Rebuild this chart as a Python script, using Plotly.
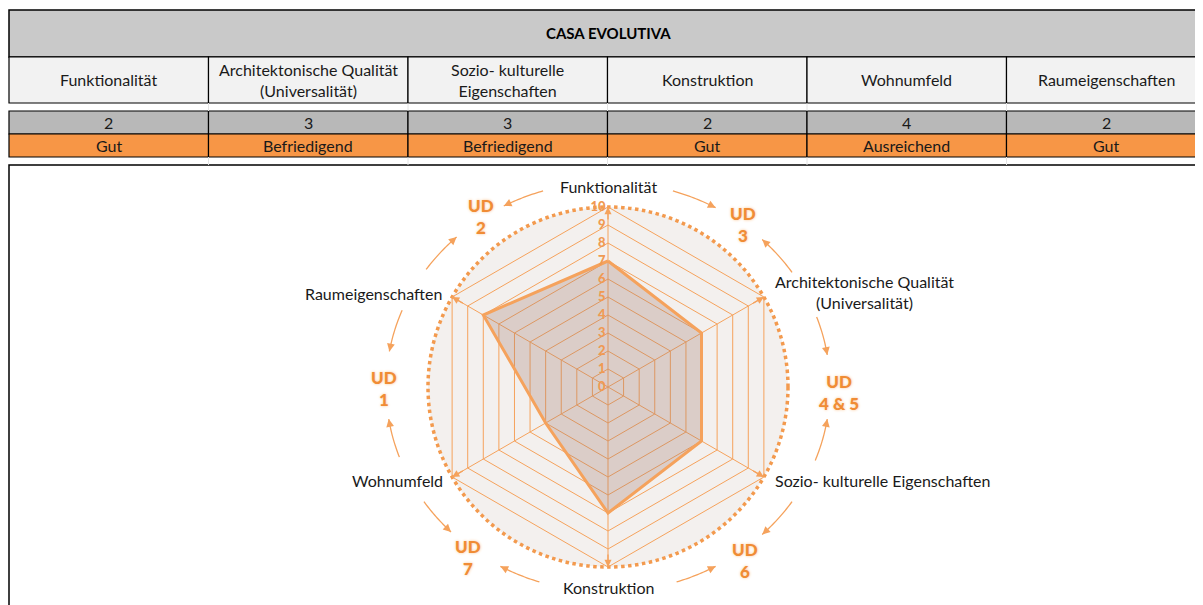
import numpy as np
import plotly.graph_objects as go

# data
title = 'CASA EVOLUTIVA'
categories = ['Funktionalität', 'Architektonische Qualität (Universalität)',
              'Sozio- kulturelle Eigenschaften', 'Konstruktion',
              'Wohnumfeld', 'Raumeigenschaften']
table_headers = ['Funktionalität', 'Architektonische Qualität<br>(Universalität)',
                 'Sozio- kulturelle<br>Eigenschaften', 'Konstruktion',
                 'Wohnumfeld', 'Raumeigenschaften']
chart_labels = ['Funktionalität', 'Architektonische Qualität<br>(Universalität)',
                'Sozio- kulturelle Eigenschaften', 'Konstruktion',
                'Wohnumfeld', 'Raumeigenschaften']
grades = [2, 3, 3, 2, 4, 2]
grade_labels = ['Gut', 'Befriedigend', 'Befriedigend', 'Gut', 'Ausreichend', 'Gut']
scores = [7, 6, 6, 7, 4, 8]
ud_labels = ['UD<br>2', 'UD<br>3', 'UD<br>4 & 5', 'UD<br>6', 'UD<br>7', 'UD<br>1']

OFF = 8  # page body margin
W, H = 1203 - OFF, 605 - OFF
ORANGE = '#f5a25c'
FONT = 'Lato'


def px(x):
    return (x - OFF) / W


def py(y):
    return 1 - (y - OFF) / H


def text(x, y, t, **font):
    return dict(x=px(x), y=py(y), text=t, showarrow=False,
                xanchor='center', yanchor='middle', font=font)


cx, cy, R = 608, 387, 180

fig = go.Figure()
fig.add_trace(go.Scatterpolar(
    r=scores + scores[:1],
    theta=categories + categories[:1],
    fill='toself',
    fillcolor='rgba(165,125,112,0.3)',
    line=dict(color=ORANGE, width=3),
    mode='lines',
    hoverinfo='skip',
    showlegend=False,
))

shapes = []
annotations = []

# top table
col_w = 199.5
x0 = 9
shapes.append(dict(type='rect', x0=px(x0), x1=px(1225), y0=py(10), y1=py(57),
                   fillcolor='#c9c9c9', line=dict(color='black', width=1.5)))
annotations.append(text(608, 33, '<b>' + title + '</b>', family=FONT, size=15, color='black'))
for i, h in enumerate(table_headers):
    xa, xb = x0 + i * col_w, x0 + (i + 1) * col_w
    if i == len(table_headers) - 1:
        xb = 1225
    xm = x0 + (i + 0.5) * col_w
    shapes.append(dict(type='rect', x0=px(xa), x1=px(xb), y0=py(57), y1=py(103),
                       fillcolor='#f2f2f2', line=dict(color='black', width=1.2)))
    shapes.append(dict(type='rect', x0=px(xa), x1=px(xb), y0=py(111), y1=py(134),
                       fillcolor='#b8b8b8', line=dict(color='black', width=1.2)))
    shapes.append(dict(type='rect', x0=px(xa), x1=px(xb), y0=py(134), y1=py(157),
                       fillcolor='#f79646', line=dict(color='black', width=1.2)))
    annotations.append(text(xm, 80, h, family=FONT, size=16, color='#1a1a1a'))
    annotations.append(text(xm, 122.5, str(grades[i]), family=FONT, size=16, color='#1a1a1a'))
    annotations.append(text(xm, 145.5, grade_labels[i], family=FONT, size=16, color='#1a1a1a'))
    if i > 0:
        for ya, yb in [(103, 111), (157, 165)]:
            shapes.append(dict(type='line', x0=px(xa), x1=px(xa), y0=py(ya), y1=py(yb),
                               line=dict(color='#e4e4e4', width=1)))

# chart frame
shapes.append(dict(type='rect', x0=px(9), x1=px(1225), y0=py(165), y1=py(630),
                   fillcolor='white', line=dict(color='black', width=1.5), layer='below'))
# background disc with dotted ring
shapes.append(dict(type='circle', x0=px(cx - R), x1=px(cx + R), y0=py(cy - R), y1=py(cy + R),
                   fillcolor='#f3f0ee', line=dict(color='#f39a4e', width=3.5, dash='dot'),
                   layer='below'))

# spoke arrowheads at outer vertices
for k in range(6):
    b = np.radians(60 * k)
    vx, vy = cx + R * np.sin(b), cy - R * np.cos(b)
    annotations.append(dict(x=px(vx), y=py(vy), text='', showarrow=True,
                            ax=-14 * np.sin(b), ay=14 * np.cos(b),
                            arrowhead=2, arrowsize=1.1, arrowwidth=1.3,
                            arrowcolor=ORANGE, standoff=0))

# category labels
label_pos = [(608, 186), (864, 292), (882, 481), (608, 587), (397, 480), (373, 293)]
for (lx, ly), t in zip(label_pos, chart_labels):
    annotations.append(text(lx, ly, t, family=FONT, size=16, color='#1a1a1a'))

# curved arrows towards UD labels
rx, ry = 222, 205
arcs = [(343, 332), (17, 29), (56, 44), (70, 81), (111, 99), (124, 136),
        (162, 151), (198, 209), (236, 225), (250, 261), (292, 280), (305, 317)]
for a0, a1 in arcs:
    bs = np.radians(np.linspace(a0, a1, 20))
    xs = cx + rx * np.sin(bs)
    ys = cy - ry * np.cos(bs)
    path = 'M ' + ' L '.join(f'{px(x):.5f},{py(y):.5f}' for x, y in zip(xs, ys))
    shapes.append(dict(type='path', path=path, line=dict(color=ORANGE, width=1.3)))
    dx, dy = xs[-1] - xs[-3], ys[-1] - ys[-3]
    n = np.hypot(dx, dy)
    annotations.append(dict(x=px(xs[-1]), y=py(ys[-1]), text='', showarrow=True,
                            ax=-9 * dx / n, ay=-9 * dy / n,
                            arrowhead=2, arrowsize=1.2, arrowwidth=1.3,
                            arrowcolor=ORANGE, standoff=0))

# UD labels
ud_pos = [(481, 216), (743, 224), (839, 392), (745, 560), (468, 557), (384, 388)]
for (ux, uy), t in zip(ud_pos, ud_labels):
    annotations.append(text(ux, uy, t, family=FONT, size=17, color='#f08c35', weight=900,
                            shadow='0px 0px 3px #f9c38f'))

fig.update_layout(
    width=W, height=H,
    margin=dict(l=0, r=0, t=0, b=0),
    paper_bgcolor='white',
    plot_bgcolor='white',
    shapes=shapes,
    annotations=annotations,
    polar=dict(
        domain=dict(x=[px(cx - R), px(cx + R)], y=[py(cy + R), py(cy - R)]),
        gridshape='linear',
        bgcolor='rgba(0,0,0,0)',
        angularaxis=dict(
            rotation=90, direction='clockwise',
            categoryarray=categories, categoryorder='array',
            showticklabels=False, ticks='',
            gridcolor=ORANGE, gridwidth=1,
            linecolor=ORANGE, linewidth=1, showline=True,
        ),
        radialaxis=dict(
            range=[0, 10], dtick=1, angle=90, side='counterclockwise', tickangle=90,
            tickfont=dict(family=FONT, size=13, color='#f09a52', weight=900),
            gridcolor=ORANGE, gridwidth=1,
            showline=False, ticks='',
        ),
    ),
)

fig.write_html('out.html')
